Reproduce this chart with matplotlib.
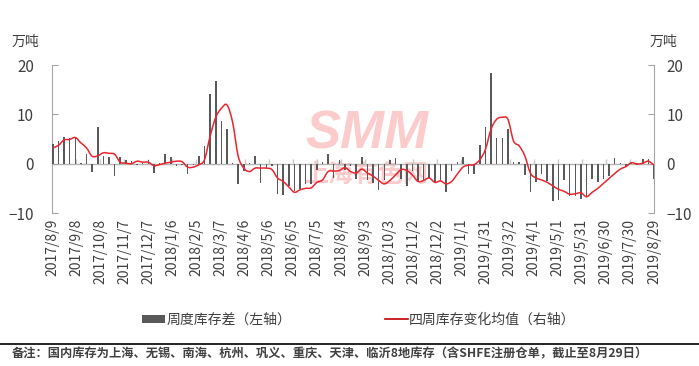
import matplotlib
matplotlib.use('Agg')
import matplotlib.pyplot as plt
import matplotlib.dates as mdates
import numpy as np
import pandas as pd
from matplotlib.patches import Patch, PathPatch
from matplotlib.lines import Line2D
from matplotlib.path import Path

plt.rcParams['font.family'] = ['Noto Sans CJK SC', 'DejaVu Sans']

# ---------------- data ----------------
start_date = '2017-08-10'          # first weekly observation
axis_start = '2017-08-09'
axis_end = '2019-08-29'
tick_step_days = 30
n_ticks = 26

weekly_change = [
    3.9, 4.5, 5.5, 5.3, 5.5, 0.2, 2.0, -1.6, 7.5, 1.5,
    1.3, -2.4, 1.3, 0.8, 0.6, -0.3, 0.2, 0.8, -1.8, 0.1,
    2.0, 1.3, -0.5, -0.3, -2.0, -0.3, 1.6, 3.5, 14.2, 16.8,
    8.7, 7.0, 0.2, -4.2, -1.4, 0.2, 1.6, -4.0, -0.9, -0.5,
    -6.1, -6.3, -4.6, -5.6, -5.2, -4.2, -4.2, -1.2, 0.3, 2.0,
    -2.9, 0.8, -1.2, -0.4, -3.1, 1.4, -3.4, -4.0, -5.3, -3.3,
    0.8, 1.2, -3.2, -4.6, -1.5, -3.8, -3.3, -3.0, -3.8, -3.5,
    -5.8, -1.5, 0.4, 1.4, -2.1, -2.0, 3.7, 7.4, 18.4, 5.3,
    5.3, 7.1, 0.4, 0.3, -2.2, -5.8, -3.7, -2.0, -3.6, -7.6,
    -7.3, -3.3, -6.5, -6.6, -7.2, -6.5, -3.1, -3.7, -3.1, -2.4,
    1.2, 0.2, -0.6, 0.3, 0.2, 0.9, 1.0, -3.1,
]

avg4 = [
    3.2, 3.7, 4.8, 4.9, 5.3, 4.2, 3.2, 1.5, 1.6, 2.2,
    2.1, 1.9, 0.3, 0.1, 0.0, 0.5, 0.3, 0.3, -0.4, -0.2,
    0.1, 0.3, 0.5, 0.4, -0.7, -0.7, -0.2, 0.8, 5.6, 9.4,
    11.2, 11.9, 8.4, 1.5, -0.9, -1.6, -0.9, -0.9, -0.9, -1.2,
    -2.9, -3.6, -4.7, -5.8, -5.3, -5.0, -4.9, -3.8, -3.3, -1.6,
    -1.5, -1.4, -0.8, -1.6, -1.9, -1.1, -1.9, -2.5, -3.4, -4.1,
    -3.4, -2.3, -1.2, -1.4, -2.3, -3.6, -3.4, -2.9, -3.8, -3.5,
    -4.1, -3.6, -2.1, -0.7, -0.3, -0.2, 0.8, 2.9, 7.0, 9.0,
    9.4, 9.0, 4.6, 3.6, 1.6, -1.9, -2.9, -3.3, -3.8, -4.5,
    -5.2, -5.6, -6.2, -6.1, -5.9, -6.7, -5.8, -5.0, -4.0, -3.0,
    -2.0, -1.1, -0.6, 0.2, -0.1, 0.1, 0.5, -0.3,
]

y_ticks = [-10, 0, 10, 20]
unit_label = '万吨'
bar_label = '周度库存差（左轴）'
line_label = '四周库存变化均值（右轴）'
note_text = '备注：国内库存为上海、无锡、南海、杭州、巩义、重庆、天津、临沂8地库存（含SHFE注册仓单，截止至8月29日）'
watermark_big = 'SMM'
watermark_small = '上海有色网'


def smooth_path(xv, yv):
    """Excel-style smoothed line: cubic Bezier segments through every data point."""
    pts = np.column_stack([xv, yv]).astype(float)
    n = len(pts)
    verts = [pts[0]]
    codes = [Path.MOVETO]
    for i in range(n - 1):
        p0 = pts[i - 1] if i > 0 else pts[i]
        p1 = pts[i]
        p2 = pts[i + 1]
        p3 = pts[i + 2] if i + 2 < n else pts[i + 1]
        verts += [p1 + (p2 - p0) / 6.0, p2 - (p3 - p1) / 6.0, p2]
        codes += [Path.CURVE4] * 3
    return Path(np.array(verts), codes)


# ---------------- figure ----------------
W, H = 699, 366
fig = plt.figure(figsize=(W / 100, H / 100), dpi=100)
fig.patch.set_facecolor('white')

ax = fig.add_axes([52 / W, 1 - 213 / H, 602 / W, 148 / H])
ax2 = ax.twinx()

dates = pd.date_range(start_date, periods=len(weekly_change), freq='7D')
tick_dates = pd.date_range(axis_start, periods=n_ticks, freq=f'{tick_step_days}D')
tick_labels = [f'{d.year}/{d.month}/{d.day}' for d in tick_dates]

bar_color = '#595959'
line_color = '#e8262e'
axis_gray = '#a6a6a6'
text_gray = '#404040'

# watermark
wm_color = '#fccccc'
ax.text(0.523, 0.53, watermark_big, transform=ax.transAxes, ha='center', va='center',
        fontsize=38, fontweight='bold', style='italic', family='Liberation Sans',
        color=wm_color, zorder=0.5)
ax.text(0.523, 0.255, watermark_small, transform=ax.transAxes, ha='center', va='center',
        fontsize=18, fontweight='bold', color=wm_color, zorder=0.5)

ax.axhline(0, color='#b4b4b4', lw=1.0, zorder=1)
ax.vlines(tick_dates, 0, 0.85, color='#c8c8c8', lw=1.0, zorder=1)
ax.bar(dates, weekly_change, width=1.9, color=bar_color, zorder=3, linewidth=0)
ax2.add_patch(PathPatch(smooth_path(mdates.date2num(dates), avg4), fill=False,
                        edgecolor=line_color, lw=1.1, zorder=4))

for a in (ax, ax2):
    a.set_ylim(-10, 20)
    a.set_yticks(y_ticks)
    a.set_xlim(pd.Timestamp(axis_start), pd.Timestamp(axis_end))
    a.spines['top'].set_visible(False)
    a.spines['bottom'].set_visible(False)
    a.patch.set_visible(False)

ax.spines['right'].set_visible(False)
ax.spines['left'].set_color(axis_gray)
ax2.spines['left'].set_visible(False)
ax2.spines['right'].set_color(axis_gray)

ax.tick_params(axis='y', direction='in', length=4, color=axis_gray, labelsize=11,
               labelcolor=text_gray, pad=13)
ax2.tick_params(axis='y', direction='in', length=4, color=axis_gray, labelsize=11,
                labelcolor=text_gray, pad=9)

ax.set_xticks(tick_dates)
ax.set_xticklabels(tick_labels, rotation=90, fontsize=10, color=text_gray)
ax.tick_params(axis='x', length=0, pad=4)
ax2.tick_params(axis='x', length=0)

# units
fig.text(12 / W, 1 - 42 / H, unit_label, fontsize=10, color=text_gray, va='center', ha='left')
fig.text(677 / W, 1 - 42 / H, unit_label, fontsize=10, color=text_gray, va='center', ha='right')

# legend
handles = [Patch(facecolor=bar_color, edgecolor='none'),
           Line2D([0], [0], color='#c00000', lw=1.2)]
fig.legend(handles, [bar_label, line_label], loc='center', ncol=2,
           bbox_to_anchor=(359 / W, 1 - 320 / H), frameon=False, fontsize=10,
           handlelength=1.6, handletextpad=0.1, columnspacing=6.8, handleheight=0.55,
           labelcolor=text_gray)

# separator line and note
fig.add_artist(Line2D([0, 1], [1 - 344 / H, 1 - 344 / H], transform=fig.transFigure,
                      color='black', lw=1.2))
fig.text(12 / W, 1 - 354 / H, note_text, fontsize=8.8, fontweight='bold', color=text_gray,
         va='center', ha='left')

fig.savefig('out.png', dpi=100)
